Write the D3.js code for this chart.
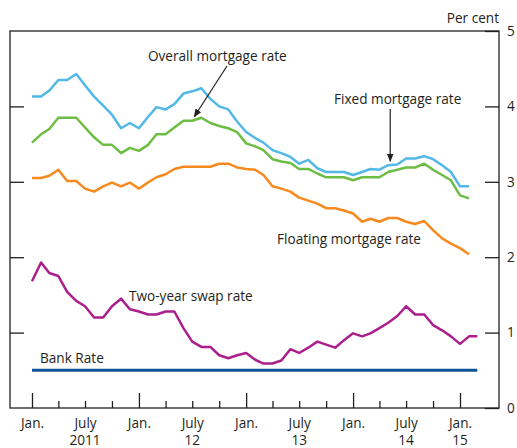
<!DOCTYPE html>
<html>
<head>
<meta charset="utf-8">
<script src="https://cdn.jsdelivr.net/npm/d3@7"></script>
<style>
  body { margin: 0; background: #fff; }
  text { font-family: "Open Sans", sans-serif; fill: #231f20; }
</style>
</head>
<body>
<div id="chart"></div>
<script>
// monthly observations, first one is Jan. 2011
const firstMonth = new Date(2011, 0, 1);

const overallRate = [4.13, 4.13, 4.21, 4.35, 4.35, 4.43, 4.28, 4.13, 4.01, 3.89,
  3.71, 3.78, 3.71, 3.86, 3.99, 3.96, 4.03, 4.17, 4.20, 4.24,
  4.10, 4.00, 3.96, 3.80, 3.66, 3.58, 3.52, 3.42, 3.38, 3.33,
  3.24, 3.29, 3.18, 3.13, 3.13, 3.13, 3.09, 3.13, 3.17, 3.16,
  3.22, 3.23, 3.31, 3.31, 3.34, 3.30, 3.22, 3.13, 2.94, 2.94];

const fixedRate = [3.52, 3.63, 3.70, 3.85, 3.85, 3.85, 3.72, 3.59, 3.49, 3.49,
  3.38, 3.45, 3.41, 3.49, 3.63, 3.63, 3.72, 3.81, 3.81, 3.85,
  3.78, 3.74, 3.71, 3.66, 3.51, 3.47, 3.42, 3.30, 3.27, 3.25,
  3.17, 3.17, 3.11, 3.06, 3.06, 3.06, 3.02, 3.06, 3.06, 3.06,
  3.13, 3.16, 3.19, 3.19, 3.24, 3.16, 3.09, 3.02, 2.82, 2.78];

const floatingRate = [3.05, 3.05, 3.08, 3.16, 3.01, 3.01, 2.91, 2.87, 2.94, 2.99,
  2.94, 2.99, 2.91, 2.99, 3.06, 3.10, 3.17, 3.20, 3.20, 3.20,
  3.20, 3.24, 3.24, 3.19, 3.17, 3.16, 3.09, 2.94, 2.91, 2.87,
  2.79, 2.75, 2.71, 2.65, 2.65, 2.62, 2.58, 2.47, 2.51, 2.47,
  2.52, 2.52, 2.47, 2.44, 2.48, 2.36, 2.25, 2.18, 2.12, 2.04];

const swapRate = [1.68, 1.93, 1.79, 1.75, 1.54, 1.42, 1.35, 1.20, 1.20, 1.35,
  1.45, 1.31, 1.28, 1.24, 1.24, 1.28, 1.28, 1.06, 0.88, 0.81,
  0.81, 0.70, 0.66, 0.70, 0.73, 0.64, 0.59, 0.59, 0.63, 0.78,
  0.73, 0.80, 0.88, 0.84, 0.80, 0.90, 0.99, 0.95, 0.99, 1.06,
  1.13, 1.22, 1.35, 1.24, 1.24, 1.10, 1.03, 0.95, 0.85, 0.95, 0.95];

const bankRate = [0.5, 0.5, 0.5, 0.5, 0.5, 0.5, 0.5, 0.5, 0.5, 0.5,
  0.5, 0.5, 0.5, 0.5, 0.5, 0.5, 0.5, 0.5, 0.5, 0.5,
  0.5, 0.5, 0.5, 0.5, 0.5, 0.5, 0.5, 0.5, 0.5, 0.5,
  0.5, 0.5, 0.5, 0.5, 0.5, 0.5, 0.5, 0.5, 0.5, 0.5,
  0.5, 0.5, 0.5, 0.5, 0.5, 0.5, 0.5, 0.5, 0.5, 0.5, 0.5];

const yTicks = [0, 1, 2, 3, 4, 5];
// year labels sit under these months
const yearLabels = [
  { date: new Date(2011, 6, 1), label: '2011' },
  { date: new Date(2012, 6, 1), label: '12' },
  { date: new Date(2013, 6, 1), label: '13' },
  { date: new Date(2014, 6, 1), label: '14' },
  { date: new Date(2015, 0, 1), label: '15' }
];

const width = 517, height = 448;
const margin = { top: 31, right: 18, bottom: 40, left: 10 };
const plotRight = width - margin.right;
const plotBottom = height - margin.bottom;
const fontSize = '13.6px';

const toSeries = values => values.map((v, i) => ({ date: d3.timeMonth.offset(firstMonth, i), value: v }));

const svg = d3.select('#chart')
  .append('svg')
  .attr('width', width)
  .attr('height', height);

const x = d3.scaleTime()
  .domain([firstMonth, new Date(2015, 0, 1)])
  .range([margin.left + 22, margin.left + 450]);

const y = d3.scaleLinear()
  .domain([0, 5])
  .range([plotBottom, margin.top]);

const line = d3.line()
  .x(d => x(d.date))
  .y(d => y(d.value));

//frame
svg.append('rect')
  .attr('x', margin.left)
  .attr('y', margin.top)
  .attr('width', plotRight - margin.left)
  .attr('height', plotBottom - margin.top)
  .style('fill', 'none')
  .style('stroke', '#231f20')
  .style('stroke-width', 1.3);

//right axis with labels
const rightAxis = svg.append('g')
  .attr('transform', `translate(${plotRight}, 0)`)
  .call(d3.axisRight(y)
    .tickValues(yTicks)
    .tickSizeInner(-14)
    .tickSizeOuter(0)
    .tickPadding(8)
    .tickFormat(d3.format('d')));

rightAxis.selectAll('text').style('font-size', fontSize);

//left axis, ticks only
const leftAxis = svg.append('g')
  .attr('transform', `translate(${margin.left}, 0)`)
  .call(d3.axisLeft(y)
    .tickValues(yTicks.slice(1, -1))
    .tickSizeInner(-14)
    .tickSizeOuter(0)
    .tickFormat(''));

//bottom axis
const quarterTicks = d3.timeMonth.every(3).range(firstMonth, new Date(2015, 1, 1));
const bottomAxis = svg.append('g')
  .attr('transform', `translate(0, ${plotBottom})`)
  .call(d3.axisBottom(x)
    .tickValues(quarterTicks)
    .tickSizeInner(-7)
    .tickSizeOuter(0)
    .tickPadding(10)
    .tickFormat(d => d.getMonth() === 0 ? 'Jan.' : d.getMonth() === 6 ? 'July' : ''));

bottomAxis.selectAll('.tick')
  .filter(d => d.getMonth() === 0)
  .select('line')
  .attr('y2', -15);

bottomAxis.selectAll('text').style('font-size', fontSize);

[rightAxis, leftAxis, bottomAxis].forEach(axis => {
  axis.select('.domain').remove();
  axis.selectAll('line').style('stroke', '#231f20').style('stroke-width', 1.3);
});

svg.selectAll('.year_label')
  .data(yearLabels)
  .enter()
  .append('text')
  .attr('class', 'year_label')
  .attr('x', d => x(d.date))
  .attr('y', plotBottom + 37)
  .attr('text-anchor', 'middle')
  .style('font-size', fontSize)
  .text(d => d.label);

svg.append('text')
  .attr('x', plotRight)
  .attr('y', margin.top - 8)
  .attr('text-anchor', 'end')
  .style('font-size', fontSize)
  .text('Per cent');

//series lines
const series = [
  { values: bankRate, color: '#0f5596', width: 3 },
  { values: swapRate, color: '#ab1f8d', width: 2.5 },
  { values: floatingRate, color: '#f7891f', width: 2.5 },
  { values: fixedRate, color: '#6dbd45', width: 2.5 },
  { values: overallRate, color: '#52b8e8', width: 2.5 }
];

svg.selectAll('.series')
  .data(series)
  .enter()
  .append('path')
  .attr('class', 'series')
  .attr('d', d => line(toSeries(d.values)))
  .style('fill', 'none')
  .style('stroke', d => d.color)
  .style('stroke-width', d => d.width)
  .style('stroke-linejoin', 'round');

//arrowhead
svg.append('defs')
  .append('marker')
  .attr('id', 'arrow')
  .attr('viewBox', '0 0 10 10')
  .attr('refX', 9)
  .attr('refY', 5)
  .attr('markerWidth', 7)
  .attr('markerHeight', 7)
  .attr('orient', 'auto')
  .append('path')
  .attr('d', 'M0,1 L10,5 L0,9 Z')
  .style('fill', '#231f20');

//labels
const labels = [
  { text: 'Overall mortgage rate', x: 148, y: 61 },
  { text: 'Fixed mortgage rate', x: 334, y: 104 },
  { text: 'Floating mortgage rate', x: 277, y: 244 },
  { text: 'Two-year swap rate', x: 129, y: 301 },
  { text: 'Bank Rate', x: 40, y: 363 }
];

svg.selectAll('.series_label')
  .data(labels)
  .enter()
  .append('text')
  .attr('class', 'series_label')
  .attr('x', d => d.x)
  .attr('y', d => d.y)
  .style('font-size', fontSize)
  .text(d => d.text);

//arrows point at data points
const overallTip = { date: new Date(2012, 6, 1), value: fixedRate[18] };
svg.append('line')
  .attr('x1', 227)
  .attr('y1', 66)
  .attr('x2', x(overallTip.date) + 2)
  .attr('y2', y(overallTip.value) - 4)
  .style('stroke', '#231f20')
  .style('stroke-width', 1.2)
  .attr('marker-end', 'url(#arrow)');

const fixedTip = { date: new Date(2014, 4, 1), value: overallRate[40] };
svg.append('line')
  .attr('x1', x(fixedTip.date) + 2)
  .attr('y1', 109)
  .attr('x2', x(fixedTip.date) + 2)
  .attr('y2', y(fixedTip.value) - 4)
  .style('stroke', '#231f20')
  .style('stroke-width', 1.2)
  .attr('marker-end', 'url(#arrow)');
</script>
</body>
</html>
